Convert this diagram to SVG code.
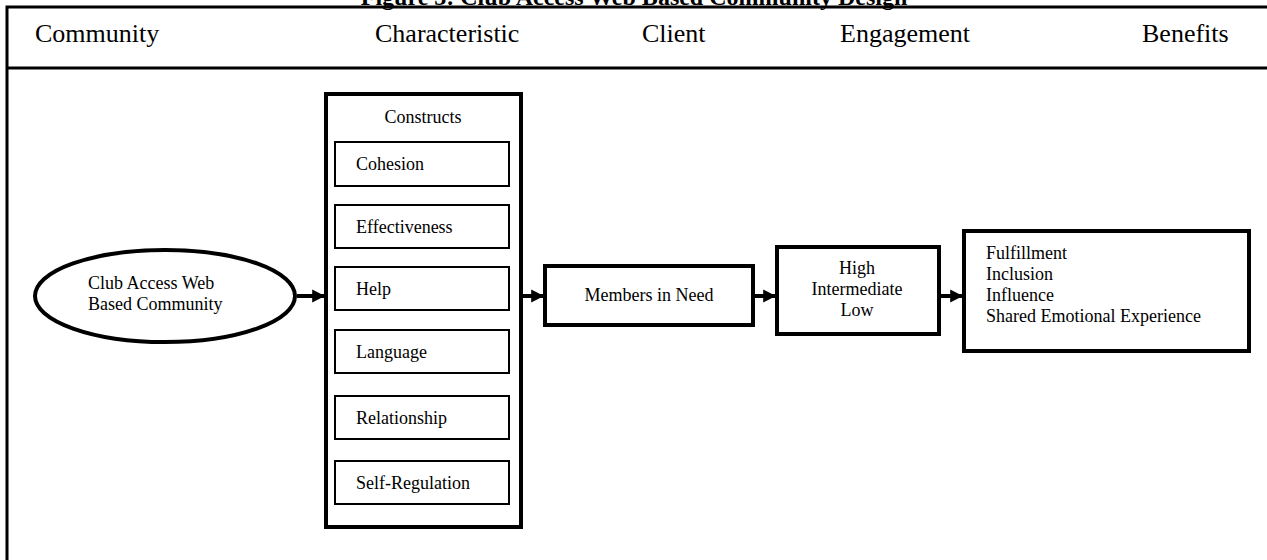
<svg xmlns="http://www.w3.org/2000/svg" width="1267" height="560" viewBox="0 0 1267 560">
<defs>
<style>
text{font-family:"Liberation Serif","Times New Roman",serif;fill:#000}
.hdr{font-size:26px}
.t{font-size:18px}
.thick{fill:#fff;stroke:#000;stroke-width:4}
.thin{fill:#fff;stroke:#000;stroke-width:2}
.frame{fill:none;stroke:#000;stroke-width:3}
.conn{stroke:#000;stroke-width:4;fill:none}
</style>
<marker id="ah" viewBox="0 0 10 10" refX="10" refY="5" markerWidth="3.2" markerHeight="4" markerUnits="strokeWidth" orient="auto">
<path d="M0,0 L10,5 L0,10 Z" fill="#000"/>
</marker>
</defs>
<rect width="1267" height="560" fill="#fff"/>
<text x="634" y="5" text-anchor="middle" style="font-size:24px;font-weight:bold">Figure 3: Club Access Web Based Community Design</text>
<g id="frame">
<path class="frame" d="M7,560 V7 H1267"/>
<path class="frame" d="M7,68 H1267"/>
</g>
<g id="header">
<text class="hdr" x="35" y="42">Community</text>
<text class="hdr" x="375" y="42">Characteristic</text>
<text class="hdr" x="642" y="42">Client</text>
<text class="hdr" x="840" y="42">Engagement</text>
<text class="hdr" x="1142" y="42">Benefits</text>
</g>
<g id="community">
<ellipse class="thick" cx="165" cy="296" rx="130" ry="46"/>
<text class="t" x="88" y="289">Club Access Web</text>
<text class="t" x="88" y="310">Based Community</text>
</g>
<g id="constructs">
<rect class="thick" x="326" y="94" width="195" height="433"/>
<text class="t" x="423" y="123" text-anchor="middle">Constructs</text>
<g id="cohesion"><rect class="thin" x="335" y="142" width="174" height="44"/><text class="t" x="356" y="170">Cohesion</text></g>
<g id="effectiveness"><rect class="thin" x="335" y="205" width="174" height="43"/><text class="t" x="356" y="233">Effectiveness</text></g>
<g id="help"><rect class="thin" x="335" y="267" width="174" height="43"/><text class="t" x="356" y="295">Help</text></g>
<g id="language"><rect class="thin" x="335" y="330" width="174" height="43"/><text class="t" x="356" y="358">Language</text></g>
<g id="relationship"><rect class="thin" x="335" y="396" width="174" height="43"/><text class="t" x="356" y="424">Relationship</text></g>
<g id="selfregulation"><rect class="thin" x="335" y="461" width="174" height="43"/><text class="t" x="356" y="489">Self-Regulation</text></g>
</g>
<g id="members">
<rect class="thick" x="545" y="266" width="208" height="59"/>
<text class="t" x="649" y="301" text-anchor="middle">Members in Need</text>
</g>
<g id="engagement">
<rect class="thick" x="777" y="247" width="162" height="87"/>
<text class="t" x="857" y="274" text-anchor="middle">High</text>
<text class="t" x="857" y="295" text-anchor="middle">Intermediate</text>
<text class="t" x="857" y="316" text-anchor="middle">Low</text>
</g>
<g id="benefits">
<rect class="thick" x="964" y="231" width="285" height="120"/>
<text class="t" x="986" y="259">Fulfillment</text>
<text class="t" x="986" y="280">Inclusion</text>
<text class="t" x="986" y="301">Influence</text>
<text class="t" x="986" y="322">Shared Emotional Experience</text>
</g>
<g id="connectors">
<line class="conn" x1="297" y1="296" x2="325" y2="296" marker-end="url(#ah)"/>
<line class="conn" x1="523" y1="296" x2="544" y2="296" marker-end="url(#ah)"/>
<line class="conn" x1="755" y1="296" x2="776" y2="296" marker-end="url(#ah)"/>
<line class="conn" x1="941" y1="296" x2="963" y2="296" marker-end="url(#ah)"/>
</g>
</svg>
